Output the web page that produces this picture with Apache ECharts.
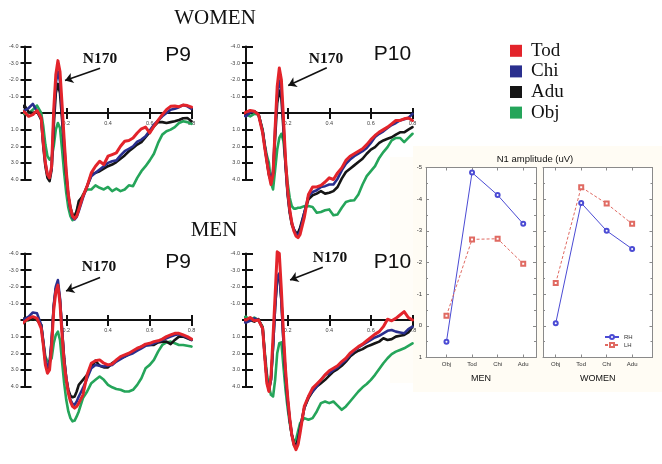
<!DOCTYPE html>
<html><head><meta charset="utf-8">
<script src="https://cdn.jsdelivr.net/npm/echarts@6/dist/echarts.min.js"></script>
<style>html,body{margin:0;padding:0;background:#fff}#c{width:662px;height:464px}</style>
</head><body><div id="c"></div><script>
// time samples (s) shared by all ERP curves
const T = [-0.1,-0.08,-0.06,-0.04,-0.02,0,0.02,0.04,0.06,0.08,
  0.09,0.1,0.11,0.12,0.13,0.14,0.15,0.16,0.17,0.18,0.19,0.2,0.21,0.22,0.23,0.24,0.25,0.26,
  0.28,0.3,0.32,0.34,0.36,0.38,0.4,0.42,0.44,0.46,0.48,0.5,0.52,0.54,0.56,0.58,0.6,0.62,0.64,0.66,0.68,0.7,0.72,0.74,0.76,0.78,0.8];
const conditions = ['Tod','Chi','Adu','Obj'];

// WOMEN P9
const w9Tod = [0.15,0.1,0.05,-0.1,-0.15,-0.05,0.2,0.1,-0.15,0.3,
  1.8,3.0,3.7,3.9,3.2,-0.2,-2.3,-3.15,-2.5,-0.5,1.6,3.5,4.9,5.7,6.2,6.35,6.2,5.8,
  5.0,4.4,3.6,3.2,2.9,3.1,2.6,2.5,2.4,2.0,1.7,1.65,1.5,1.2,0.95,0.85,1.2,0.8,0.45,0.1,-0.2,-0.4,-0.42,-0.38,-0.48,-0.45,-0.35];
const w9Chi = [0.1,0.15,0.1,0.0,-0.1,-0.15,-0.3,-0.55,-0.1,0.3,
  1.8,3.0,3.7,3.9,3.3,0.2,-1.8,-2.5,-1.9,0.0,1.9,3.6,5.0,5.8,6.3,6.4,6.25,5.9,
  5.1,4.4,3.8,3.6,3.4,3.2,3.0,2.9,2.85,2.55,2.3,2.15,2.0,1.72,1.6,1.4,1.05,0.7,0.45,0.2,0.0,-0.2,-0.25,-0.35,-0.48,-0.4,-0.25];
const w9Adu = [0.15,0.1,0.05,-0.05,-0.2,-0.45,-0.05,0.0,-0.1,0.4,
  2.0,3.2,3.9,4.1,3.4,0.8,-1.2,-1.75,-1.2,0.4,2.2,3.8,5.0,5.7,6.1,6.2,5.9,5.3,
  5.0,4.4,3.7,3.6,3.5,3.35,3.2,3.1,2.95,2.75,2.55,2.3,2.1,1.9,1.75,1.45,1.15,0.8,0.55,0.55,0.6,0.55,0.5,0.42,0.32,0.3,0.5];
const w9Obj = [0.15,0.05,-0.1,0.0,0.05,0.05,0.0,-0.2,-0.45,0.0,
  0.8,1.9,2.6,2.8,2.7,2.0,1.0,0.6,0.9,2.2,3.6,4.8,5.7,6.2,6.45,6.3,5.9,5.5,
  4.9,4.6,4.6,4.35,4.5,4.6,4.45,4.7,4.55,4.7,4.6,4.35,4.4,3.9,3.5,3.2,2.85,2.45,1.8,1.3,1.1,1.0,0.85,0.6,0.5,0.55,0.65];

// WOMEN P10
const w10Tod = [0.1,0.2,0.05,-0.15,0.1,-0.05,-0.15,-0.1,0.1,1.2,
  2.1,2.9,3.7,4.3,3.7,0.9,-1.6,-2.7,-2.0,0.3,2.8,4.6,5.8,6.6,7.1,7.4,7.5,7.3,
  6.3,4.9,4.45,4.45,4.35,4.15,3.9,4.0,3.6,3.3,2.85,2.6,2.45,2.3,2.15,1.9,1.6,1.35,1.15,1.0,0.85,0.65,0.45,0.45,0.35,0.3,0.45];
const w10Chi = [0.0,0.1,0.05,0.05,0.1,0.2,-0.05,-0.1,0.1,1.1,
  2.0,2.8,3.6,4.1,3.5,1.0,-1.1,-1.95,-1.4,0.6,3.0,4.8,5.9,6.6,7.0,7.3,7.35,7.1,
  6.0,5.0,4.75,4.65,4.45,4.4,4.3,4.3,3.95,3.45,3.05,2.8,2.6,2.45,2.3,2.1,1.8,1.45,1.25,1.1,0.9,0.72,0.6,0.45,0.38,0.3,0.05];
const w10Adu = [0.05,0.15,0.0,0.1,-0.05,0.1,0.0,-0.1,0.05,1.1,
  2.0,2.9,3.7,4.1,3.6,1.5,-0.6,-1.35,-0.9,1.0,3.2,4.9,6.0,6.7,7.0,7.2,7.2,6.9,
  6.0,5.2,4.95,4.85,4.7,4.85,4.8,4.7,4.45,3.95,3.55,3.35,3.15,2.95,2.75,2.45,2.2,2.05,1.8,1.65,1.55,1.46,1.3,1.16,1.16,1.0,0.85];
const w10Obj = [0.0,0.1,0.15,0.0,-0.05,0.1,0.2,0.05,0.1,1.0,
  1.9,2.55,3.0,4.2,4.6,3.4,2.2,1.5,1.25,1.7,3.0,4.2,5.1,5.6,5.75,5.75,5.7,5.7,
  5.6,5.6,5.65,6.0,5.95,5.85,5.8,6.15,6.1,5.7,5.35,5.27,5.25,4.9,4.3,3.8,3.5,3.2,2.7,2.35,2.05,1.65,1.5,1.5,1.75,1.5,1.25];

// MEN P9
const m9Tod = [0.0,-0.1,-0.2,-0.05,0.3,0.1,-0.1,-0.2,-0.1,0.5,
  1.5,2.7,3.2,3.0,1.6,-0.6,-1.7,-2.1,-1.0,0.9,2.6,3.6,4.4,4.9,5.2,5.3,5.2,5.0,
  4.5,3.3,2.6,2.45,2.4,2.6,2.7,2.65,2.4,2.2,2.1,2.0,1.85,1.7,1.6,1.45,1.4,1.3,1.25,1.15,1.0,0.9,0.8,0.8,0.9,1.0,1.15];
const m9Chi = [0.1,0.3,0.0,-0.1,0.05,-0.05,-0.2,-0.45,-0.4,0.3,
  1.3,2.4,2.8,2.6,1.2,-0.9,-2.0,-2.4,-1.3,0.6,2.4,3.5,4.3,4.8,5.05,5.1,4.9,4.6,
  4.1,3.5,2.9,2.7,2.75,2.8,2.75,2.7,2.5,2.35,2.2,2.1,2.0,1.85,1.7,1.55,1.5,1.4,1.3,1.2,1.1,1.0,0.9,0.85,0.95,1.05,1.2];
const m9Adu = [0.2,0.1,-0.1,-0.2,0.0,-0.1,0.0,-0.1,0.0,0.3,
  1.4,2.5,2.9,2.7,1.3,-0.8,-1.9,-2.1,-1.2,0.6,2.3,3.5,4.2,4.55,4.65,4.6,4.3,3.9,
  3.6,3.3,2.85,2.45,2.75,2.85,2.85,2.6,2.45,2.3,2.2,2.05,1.9,1.75,1.6,1.5,1.5,1.5,1.35,1.3,1.3,1.45,1.2,1.0,1.0,1.1,1.2];
const m9Obj = [0.1,0.2,0.0,0.1,0.0,0.1,0.0,-0.1,0.0,0.3,
  1.3,2.2,2.5,2.5,2.3,1.4,0.9,0.7,1.2,2.5,3.8,4.8,5.5,5.9,6.1,6.05,5.8,5.5,
  4.7,4.3,3.8,3.6,3.4,3.6,3.9,4.05,4.15,4.2,4.3,4.3,4.2,3.9,3.5,2.9,2.7,2.4,1.9,1.5,1.35,1.3,1.4,1.5,1.5,1.55,1.6];

// MEN P10
const m10Tod = [0.1,0.0,0.1,-0.1,-0.05,0.0,-0.15,0.05,0.0,0.5,
  2.2,3.8,4.3,3.4,1.0,-1.5,-4.1,-4.0,-1.8,0.8,3.0,4.6,5.9,6.9,7.5,7.8,7.5,6.8,
  5.2,4.6,4.1,3.85,3.6,3.3,3.05,2.9,2.75,2.5,2.3,2.0,1.8,1.6,1.45,1.25,1.05,0.85,0.7,0.4,-0.05,0.05,-0.1,-0.3,-0.5,-0.15,0.0];
const m10Chi = [0.15,0.0,0.1,0.05,0.1,0.15,0.05,-0.1,0.0,0.5,
  2.1,3.6,4.2,3.6,1.6,-0.8,-2.6,-2.8,-1.2,1.3,3.3,4.8,6.0,6.9,7.5,7.7,7.4,6.6,
  5.3,4.6,4.3,4.0,3.6,3.3,3.2,3.0,2.85,2.6,2.4,2.1,1.85,1.65,1.5,1.35,1.2,1.05,0.95,0.8,0.65,0.6,0.7,0.75,0.8,0.55,0.4];
const m10Adu = [0.1,0.05,0.0,-0.1,0.0,-0.05,0.0,0.1,-0.05,0.5,
  2.1,3.6,4.2,3.6,1.6,-0.8,-2.5,-2.7,-1.2,1.3,3.3,4.8,6.0,6.9,7.4,7.5,7.2,6.5,
  5.3,4.7,4.3,4.0,3.8,3.6,3.35,3.1,2.95,2.75,2.5,2.2,2.0,1.85,1.75,1.6,1.5,1.4,1.3,1.1,1.2,1.15,1.0,0.95,0.9,0.75,0.4];
const m10Obj = [0.0,0.1,0.05,0.1,-0.1,-0.2,0.0,-0.15,0.0,0.4,
  1.9,3.2,4.0,4.5,4.6,3.6,2.0,1.4,1.35,2.8,4.2,5.3,6.2,6.9,7.3,7.2,6.7,6.2,
  5.9,6.0,5.9,5.5,5.0,4.9,5.0,4.9,5.15,5.4,5.2,4.9,4.6,4.3,4.05,3.85,3.6,3.3,2.95,2.6,2.3,2.05,1.9,1.8,1.7,1.55,1.4];

// N1 amplitude (uV)
const n1Cats = ['Obj','Tod','Chi','Adu'];
const menRH = [0.5,-4.84,-4.13,-3.22];
const menLH = [-0.32,-2.73,-2.75,-1.96];
const womenRH = [-0.08,-3.88,-3.0,-2.43];
const womenLH = [-1.35,-4.38,-3.86,-3.22];

// N170 arrows [t0, v0, t1, v1] in each panel's data coordinates
const arrowW9 = [0.362,-2.69,0.194,-1.95];
const arrowW10 = [0.388,-2.72,0.203,-1.66];
const arrowM9 = [0.362,-2.55,0.199,-1.75];
const arrowM10 = [0.369,-3.17,0.212,-2.41];

const colors = {Tod:'#e3242b', Chi:'#2a2f8e', Adu:'#151515', Obj:'#25a55a'};
const panels = [
  {box:{left:24.5, top:46.5, width:167, height:133}, d:{Tod:w9Tod,Chi:w9Chi,Adu:w9Adu,Obj:w9Obj}, arrow:arrowW9},
  {box:{left:246, top:46.5, width:166.5, height:133}, d:{Tod:w10Tod,Chi:w10Chi,Adu:w10Adu,Obj:w10Obj}, arrow:arrowW10},
  {box:{left:24.5, top:253.5, width:167, height:133}, d:{Tod:m9Tod,Chi:m9Chi,Adu:m9Adu,Obj:m9Obj}, arrow:arrowM9},
  {box:{left:246, top:253.5, width:166.5, height:133}, d:{Tod:m10Tod,Chi:m10Chi,Adu:m10Adu,Obj:m10Obj}, arrow:arrowM10}
];

const grids = [], xAxes = [], yAxes = [], series = [];
const axLine = {color:'#111', width:2};
const tickFmt = v => (Math.abs(v) < 1e-9 ? '' : Number(v).toFixed(1));
const tickFont = {fontSize:5.5, color:'#444', fontFamily:'Liberation Sans'};

function erpY(gi, min, max, main) {
  return {gridIndex:gi, type:'value', inverse:true, min:min, max:max, interval:1, position:'left',
    axisLine:{show:main, onZero:false, lineStyle:axLine},
    axisTick:{show:true, inside:!main, length:main ? 4 : 7, lineStyle:axLine},
    axisLabel:Object.assign({show:main, margin:6, formatter:tickFmt, showMinLabel:true, showMaxLabel:true}, tickFont),
    splitLine:{show:false}};
}

panels.forEach((p, i) => {
  const half = p.box.height / 2;
  // upper half (-4..0): x axis sits on its bottom edge = zero line
  const gA = grids.length;
  grids.push({left:p.box.left, top:p.box.top, width:p.box.width, height:half});
  const gB = grids.length;
  grids.push({left:p.box.left, top:p.box.top + half, width:p.box.width, height:half});
  const xMain = xAxes.length;
  xAxes.push({gridIndex:gA, type:'value', min:0, max:0.8, interval:0.2, position:'bottom',
    axisLine:{show:true, onZero:false, lineStyle:axLine},
    axisTick:{show:true, inside:false, length:6, lineStyle:axLine},
    axisLabel:Object.assign({show:true, margin:7, formatter:tickFmt, showMaxLabel:true}, tickFont),
    splitLine:{show:false}});
  xAxes.push({gridIndex:gA, type:'value', min:0, max:0.8, interval:0.2, position:'bottom',
    axisLine:{show:false, onZero:false}, axisTick:{show:true, inside:true, length:5, lineStyle:axLine},
    axisLabel:{show:false}, splitLine:{show:false}});
  xAxes.push({gridIndex:gB, type:'value', min:0, max:0.8, show:false});
  const yMain = yAxes.length;
  yAxes.push(erpY(gA, -4, 0, true));
  yAxes.push(erpY(gA, -4, 0, false));
  yAxes.push(erpY(gB, 0, 4, true));
  yAxes.push(erpY(gB, 0, 4, false));
  ['Obj','Adu','Chi','Tod'].forEach((c, k) => {
    const s = {type:'line', name:c, xAxisIndex:xMain, yAxisIndex:yMain, clip:false, symbol:'none', showSymbol:false,
      data:T.map((t, j) => [t, p.d[c][j]]),
      lineStyle:{color:colors[c], width:c === 'Tod' ? 3 : 2.6, join:'round', cap:'round'},
      itemStyle:{color:colors[c]}, z:3 + k, silent:true};
    if (c === 'Tod') {
      const a = p.arrow;
      s.markLine = {silent:true, symbol:['none','arrow'], symbolSize:8, animation:false,
        lineStyle:{color:'#111', width:1.6, type:'solid'}, itemStyle:{color:'#111'}, label:{show:false}, emphasis:{disabled:true},
        data:[[{coord:[a[0], a[1]], symbol:'none'}, {coord:[a[2], a[3]], symbol:'arrow', symbolSize:8}]]};
    }
    series.push(s);
  });
});

// N1 amplitude panels
const n1Panels = [
  {grid:{left:426, top:167.5, width:110, height:190}, xmin:-0.8, xmax:3.5, rh:menRH, lh:menLH, name:'MEN', labels:true},
  {grid:{left:543, top:167.5, width:109.5, height:190}, xmin:-0.5, xmax:3.8, rh:womenRH, lh:womenLH, name:'WOMEN', labels:false}
];
const frame = {color:'#8a8a8a', width:1};
const catIdx = n1Cats.map((c, i) => i);
n1Panels.forEach((p, j) => {
  const gi = grids.length;
  grids.push(Object.assign({show:true, backgroundColor:'#ffffff', borderWidth:0}, p.grid));
  const xi = xAxes.length, yi = yAxes.length;
  xAxes.push({gridIndex:gi, type:'value', min:p.xmin, max:p.xmax, position:'bottom',
    axisLine:{show:true, onZero:false, lineStyle:frame},
    axisTick:{show:true, inside:true, length:3, customValues:catIdx, lineStyle:frame},
    axisLabel:{show:true, customValues:catIdx, formatter:v => n1Cats[Math.round(v)], fontSize:6, color:'#333', margin:4, fontFamily:'Liberation Sans'},
    splitLine:{show:false},
    name:p.name, nameLocation:'middle', nameGap:17, nameTextStyle:{fontSize:9, color:'#111', fontFamily:'Liberation Sans'}});
  xAxes.push({gridIndex:gi, type:'value', min:p.xmin, max:p.xmax, position:'top',
    axisLine:{show:true, onZero:false, lineStyle:frame},
    axisTick:{show:true, inside:true, length:3, customValues:catIdx, lineStyle:frame},
    axisLabel:{show:false}, splitLine:{show:false}});
  yAxes.push({gridIndex:gi, type:'value', inverse:true, min:-5, max:1, interval:1, position:'left',
    axisLine:{show:true, onZero:false, lineStyle:frame},
    axisTick:{show:true, inside:true, length:3, lineStyle:frame},
    minorTick:{show:true, splitNumber:2, length:2, lineStyle:frame},
    axisLabel:{show:p.labels, fontSize:6, color:'#333', margin:4, fontFamily:'Liberation Sans'},
    splitLine:{show:false}});
  yAxes.push({gridIndex:gi, type:'value', inverse:true, min:-5, max:1, interval:1, position:'right',
    axisLine:{show:true, onZero:false, lineStyle:frame},
    axisTick:{show:true, inside:true, length:3, lineStyle:frame},
    minorTick:{show:true, splitNumber:2, length:2, lineStyle:frame},
    axisLabel:{show:false}, splitLine:{show:false}});
  series.push({type:'line', name:'RH', xAxisIndex:xi, yAxisIndex:yi, data:p.rh.map((v, i) => [i, v]),
    symbol:'emptyCircle', symbolSize:4, lineStyle:{color:'#4b4bd4', width:1}, itemStyle:{color:'#4b4bd4'}, silent:true});
  series.push({type:'line', name:'LH', xAxisIndex:xi, yAxisIndex:yi, data:p.lh.map((v, i) => [i, v]),
    symbol:'emptyRect', symbolSize:4, lineStyle:{color:'#e06a62', width:1, type:[3,2]}, itemStyle:{color:'#e06a62'}, silent:true});
});

function txt(text, x, y, font, extra) {
  return Object.assign({type:'text', x:x, y:y, z:100, silent:true,
    style:{text:text, font:font, fill:'#111', align:'center', verticalAlign:'middle', textAlign:'center', textVerticalAlign:'middle'}}, extra || {});
}
const serif = '"Liberation Serif", "DejaVu Serif", serif';
const sans = '"Liberation Sans", Arial, sans-serif';

const option = {
  animation:false,
  backgroundColor:'#ffffff',
  grid:grids, xAxis:xAxes, yAxis:yAxes, series:series,
  legend:[
    {data:conditions, orient:'vertical', left:510, top:41.3, padding:0, icon:'rect', itemWidth:12, itemHeight:12, itemGap:1.6,
      selectedMode:false, textStyle:{fontFamily:serif, fontSize:19, color:'#111', lineHeight:12, padding:[0,0,0,4]}},
    {data:['RH','LH'], orient:'vertical', left:604, top:334, padding:0, itemWidth:14, itemHeight:5, itemGap:2,
      selectedMode:false, textStyle:{fontFamily:sans, fontSize:6, color:'#333', lineHeight:6}}
  ],
  graphic:[
    {type:'rect', z:-10, silent:true, shape:{x:390, y:157, width:24, height:226}, style:{fill:'#fffdf8'}},
    {type:'rect', z:-10, silent:true, shape:{x:413, y:146, width:249, height:246}, style:{fill:'#fffcf4'}},
    txt('WOMEN', 215, 18.5, '21px ' + serif),
    txt('MEN', 214, 230.5, '21px ' + serif),
    txt('N170', 100, 59, 'bold 15.5px ' + serif),
    txt('N170', 326, 59, 'bold 15.5px ' + serif),
    txt('N170', 99, 267, 'bold 15.5px ' + serif),
    txt('N170', 330, 257.5, 'bold 15.5px ' + serif),
    txt('P9', 178, 55, '21px ' + sans),
    txt('P10', 392.5, 54, '21px ' + sans),
    txt('P9', 178, 262, '21px ' + sans),
    txt('P10', 392.5, 262, '21px ' + sans),
    txt('N1 amplitude (uV)', 535, 159.5, '9.5px ' + sans)
  ]
};
const chart = echarts.init(document.getElementById('c'), null, {renderer:'canvas'});
chart.setOption(option);
</script></body></html>
